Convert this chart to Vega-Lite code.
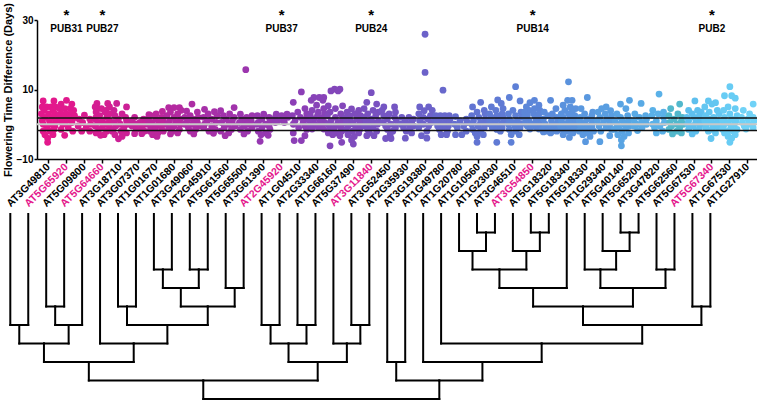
{
"$schema":"https://vega.github.io/schema/vega-lite/v6.json",
"padding":{"left":2,"top":2,"right":0,"bottom":0},
"bounds":"flush",
"spacing":55,
"config":{"view":{"stroke":null},"font":"Liberation Sans","axis":{"grid":false,"domainColor":"black","tickColor":"black","labelColor":"black","titleColor":"black","labelFont":"Liberation Sans","titleFont":"Liberation Sans"}},
"datasets":{
"genes":[{"i":1,"g":"AT3G49810"},{"i":2,"g":"AT5G65920"},{"i":3,"g":"AT5G09800"},{"i":4,"g":"AT5G64660"},{"i":5,"g":"AT3G18710"},{"i":6,"g":"AT3G07370"},{"i":7,"g":"AT1G01670"},{"i":8,"g":"AT1G01680"},{"i":9,"g":"AT3G49060"},{"i":10,"g":"AT2G45910"},{"i":11,"g":"AT5G61560"},{"i":12,"g":"AT5G65500"},{"i":13,"g":"AT3G61390"},{"i":14,"g":"AT2G45920"},{"i":15,"g":"AT1G04510"},{"i":16,"g":"AT2G33340"},{"i":17,"g":"AT1G66160"},{"i":18,"g":"AT5G37490"},{"i":19,"g":"AT3G11840"},{"i":20,"g":"AT3G52450"},{"i":21,"g":"AT2G35930"},{"i":22,"g":"AT3G19380"},{"i":23,"g":"AT1G49780"},{"i":24,"g":"AT1G20780"},{"i":25,"g":"AT1G10560"},{"i":26,"g":"AT1G23030"},{"i":27,"g":"AT3G46510"},{"i":28,"g":"AT3G54850"},{"i":29,"g":"AT5G18320"},{"i":30,"g":"AT5G18340"},{"i":31,"g":"AT5G18330"},{"i":32,"g":"AT1G29340"},{"i":33,"g":"AT5G40140"},{"i":34,"g":"AT5G65200"},{"i":35,"g":"AT3G47820"},{"i":36,"g":"AT5G62560"},{"i":37,"g":"AT5G67530"},{"i":38,"g":"AT5G67340"},{"i":39,"g":"AT1G67530"},{"i":40,"g":"AT1G27910"}],
"ann":[{"g":"AT5G65920","t":"PUB31"},{"g":"AT5G64660","t":"PUB27"},{"g":"AT2G45920","t":"PUB37"},{"g":"AT3G11840","t":"PUB24"},{"g":"AT3G54850","t":"PUB14"},{"g":"AT5G67340","t":"PUB2"}],
"edges":[{"cx":1,"cl":0,"px":1.5,"pl":6},{"cx":2,"cl":0,"px":1.5,"pl":6},{"cx":3,"cl":0,"px":3.5,"pl":5},{"cx":4,"cl":0,"px":3.5,"pl":5},{"cx":3.5,"cl":5,"px":4.25,"pl":6},{"cx":5,"cl":0,"px":4.25,"pl":6},{"cx":1.5,"cl":6,"px":2.875,"pl":7},{"cx":4.25,"cl":6,"px":2.875,"pl":7},{"cx":7,"cl":0,"px":7.5,"pl":5},{"cx":8,"cl":0,"px":7.5,"pl":5},{"cx":9,"cl":0,"px":9.5,"pl":3},{"cx":10,"cl":0,"px":9.5,"pl":3},{"cx":11,"cl":0,"px":11.5,"pl":3},{"cx":12,"cl":0,"px":11.5,"pl":3},{"cx":9.5,"cl":3,"px":10.5,"pl":4},{"cx":11.5,"cl":3,"px":10.5,"pl":4},{"cx":13,"cl":0,"px":13.5,"pl":4},{"cx":14,"cl":0,"px":13.5,"pl":4},{"cx":10.5,"cl":4,"px":12,"pl":5},{"cx":13.5,"cl":4,"px":12,"pl":5},{"cx":7.5,"cl":5,"px":9.75,"pl":6},{"cx":12,"cl":5,"px":9.75,"pl":6},{"cx":6,"cl":0,"px":7.875,"pl":7},{"cx":9.75,"cl":6,"px":7.875,"pl":7},{"cx":2.875,"cl":7,"px":5.375,"pl":8},{"cx":7.875,"cl":7,"px":5.375,"pl":8},{"cx":15,"cl":0,"px":15.5,"pl":6},{"cx":16,"cl":0,"px":15.5,"pl":6},{"cx":17,"cl":0,"px":17.5,"pl":6},{"cx":18,"cl":0,"px":17.5,"pl":6},{"cx":15.5,"cl":6,"px":16.5,"pl":7},{"cx":17.5,"cl":6,"px":16.5,"pl":7},{"cx":20,"cl":0,"px":20.5,"pl":6},{"cx":21,"cl":0,"px":20.5,"pl":6},{"cx":19,"cl":0,"px":19.75,"pl":7},{"cx":20.5,"cl":6,"px":19.75,"pl":7},{"cx":16.5,"cl":7,"px":18.125,"pl":8},{"cx":19.75,"cl":7,"px":18.125,"pl":8},{"cx":5.375,"cl":8,"px":11.75,"pl":9},{"cx":18.125,"cl":8,"px":11.75,"pl":9},{"cx":22,"cl":0,"px":22.5,"pl":8},{"cx":23,"cl":0,"px":22.5,"pl":8},{"cx":27,"cl":0,"px":27.5,"pl":1},{"cx":28,"cl":0,"px":27.5,"pl":1},{"cx":26,"cl":0,"px":26.75,"pl":2},{"cx":27.5,"cl":1,"px":26.75,"pl":2},{"cx":30,"cl":0,"px":30.5,"pl":1},{"cx":31,"cl":0,"px":30.5,"pl":1},{"cx":29,"cl":0,"px":29.75,"pl":2},{"cx":30.5,"cl":1,"px":29.75,"pl":2},{"cx":26.75,"cl":2,"px":28.25,"pl":3},{"cx":29.75,"cl":2,"px":28.25,"pl":3},{"cx":28.25,"cl":3,"px":30.125,"pl":4},{"cx":32,"cl":0,"px":30.125,"pl":4},{"cx":35,"cl":0,"px":35.5,"pl":1},{"cx":36,"cl":0,"px":35.5,"pl":1},{"cx":34,"cl":0,"px":34.75,"pl":2},{"cx":35.5,"cl":1,"px":34.75,"pl":2},{"cx":33,"cl":0,"px":33.875,"pl":3},{"cx":34.75,"cl":2,"px":33.875,"pl":3},{"cx":37,"cl":0,"px":37.5,"pl":3},{"cx":38,"cl":0,"px":37.5,"pl":3},{"cx":33.875,"cl":3,"px":35.6875,"pl":4},{"cx":37.5,"cl":3,"px":35.6875,"pl":4},{"cx":30.125,"cl":4,"px":32.906,"pl":5},{"cx":35.6875,"cl":4,"px":32.906,"pl":5},{"cx":39,"cl":0,"px":39.5,"pl":5},{"cx":40,"cl":0,"px":39.5,"pl":5},{"cx":32.906,"cl":5,"px":36.203,"pl":6},{"cx":39.5,"cl":5,"px":36.203,"pl":6},{"cx":25,"cl":0,"px":30.602,"pl":7},{"cx":36.203,"cl":6,"px":30.602,"pl":7},{"cx":24,"cl":0,"px":27.301,"pl":8},{"cx":30.602,"cl":7,"px":27.301,"pl":8},{"cx":22.5,"cl":8,"px":24.9,"pl":9},{"cx":27.301,"cl":8,"px":24.9,"pl":9},{"cx":11.75,"cl":9,"px":18.325,"pl":10},{"cx":24.9,"cl":9,"px":18.325,"pl":10}],
"pts":[
{"i":1,"v":6.7,"o":-0.3},{"i":1,"v":6.7,"o":0.3},{"i":1,"v":5,"o":-0.35},{"i":1,"v":5,"o":-0.1},{"i":1,"v":5,"o":0.15},{"i":1,"v":5,"o":0.38},{"i":1,"v":4,"o":-0.25},{"i":1,"v":4,"o":0.25},{"i":1,"v":3,"o":-0.4},{"i":1,"v":3,"o":0},{"i":1,"v":3,"o":0.35},{"i":1,"v":2,"o":-0.2},{"i":1,"v":2,"o":0.2},{"i":1,"v":1,"o":-0.35},{"i":1,"v":1,"o":0.05},{"i":1,"v":1,"o":0.4},{"i":1,"v":0,"o":-0.3},{"i":1,"v":0,"o":0.1},{"i":1,"v":-0.5,"o":0.35},{"i":1,"v":-1,"o":-0.1},{"i":1,"v":-1.5,"o":0.3},{"i":1,"v":-2,"o":-0.3},{"i":1,"v":-2,"o":0.1},{"i":1,"v":-3,"o":-0.2},{"i":1,"v":-3,"o":0.25},{"i":1,"v":-4,"o":-0.05},{"i":1,"v":-5.2,"o":-0.05},
{"i":2,"v":6.9,"o":0},{"i":2,"v":5.8,"o":-0.3},{"i":2,"v":5.8,"o":0.3},{"i":2,"v":4.5,"o":-0.4},{"i":2,"v":4.5,"o":-0.1},{"i":2,"v":4.5,"o":0.2},{"i":2,"v":4,"o":0.4},{"i":2,"v":3,"o":-0.3},{"i":2,"v":3,"o":0},{"i":2,"v":3,"o":0.3},{"i":2,"v":2.5,"o":-0.45},{"i":2,"v":2.5,"o":0.45},{"i":2,"v":2,"o":-0.15},{"i":2,"v":2,"o":0.15},{"i":2,"v":1.5,"o":0.35},{"i":2,"v":1,"o":-0.35},{"i":2,"v":1,"o":0},{"i":2,"v":0.5,"o":0.3},{"i":2,"v":0,"o":-0.2},{"i":2,"v":-1,"o":0.1},{"i":2,"v":-1.5,"o":-0.3},{"i":2,"v":-2,"o":0.35},{"i":2,"v":-3.2,"o":-0.1},
{"i":3,"v":2.6,"o":0},{"i":3,"v":1.5,"o":-0.3},{"i":3,"v":1.5,"o":0.3},{"i":3,"v":0.5,"o":-0.1},{"i":3,"v":0,"o":0.35},{"i":3,"v":-0.5,"o":-0.35},{"i":3,"v":-1,"o":0.1},{"i":3,"v":-2,"o":-0.15},{"i":3,"v":-2,"o":0.3},
{"i":4,"v":6,"o":-0.3},{"i":4,"v":6,"o":0.3},{"i":4,"v":5,"o":-0.4},{"i":4,"v":5,"o":0.4},{"i":4,"v":4.5,"o":-0.25},{"i":4,"v":4.5,"o":-0.05},{"i":4,"v":4,"o":0.2},{"i":4,"v":3.5,"o":-0.35},{"i":4,"v":3.5,"o":0.15},{"i":4,"v":3,"o":0.4},{"i":4,"v":2.5,"o":-0.15},{"i":4,"v":2,"o":0.25},{"i":4,"v":2,"o":-0.35},{"i":4,"v":1.5,"o":-0.4},{"i":4,"v":1,"o":0},{"i":4,"v":1,"o":0.4},{"i":4,"v":0.5,"o":-0.25},{"i":4,"v":0,"o":0.2},{"i":4,"v":-0.5,"o":-0.4},{"i":4,"v":-1,"o":0.4},{"i":4,"v":-1,"o":0},{"i":4,"v":-1.5,"o":-0.2},{"i":4,"v":-2,"o":0.25},{"i":4,"v":-2.5,"o":-0.35},{"i":4,"v":-3,"o":0.1},{"i":4,"v":-3.2,"o":-0.1},
{"i":5,"v":6,"o":-0.2},{"i":5,"v":5,"o":0.35},{"i":5,"v":4,"o":-0.35},{"i":5,"v":3,"o":0.1},{"i":5,"v":2.5,"o":-0.3},{"i":5,"v":2,"o":0.3},{"i":5,"v":1.5,"o":-0.1},{"i":5,"v":1,"o":0.35},{"i":5,"v":0.5,"o":-0.35},{"i":5,"v":0,"o":0},{"i":5,"v":0,"o":0.4},{"i":5,"v":-0.5,"o":-0.25},{"i":5,"v":-1,"o":0.2},{"i":5,"v":-1.5,"o":-0.4},{"i":5,"v":-2,"o":0.05},{"i":5,"v":-2,"o":-0.45},{"i":5,"v":-2.5,"o":0.35},{"i":5,"v":-3,"o":-0.3},{"i":5,"v":-3.5,"o":0.1},{"i":5,"v":-4.2,"o":-0.1},
{"i":6,"v":2,"o":-0.2},{"i":6,"v":1.5,"o":0.3},{"i":6,"v":1,"o":-0.35},{"i":6,"v":0.5,"o":0.1},{"i":6,"v":0,"o":-0.1},{"i":6,"v":0,"o":0.4},{"i":6,"v":-0.5,"o":-0.35},{"i":6,"v":-1,"o":0.2},{"i":6,"v":-1.5,"o":-0.1},{"i":6,"v":-2,"o":0.35},{"i":6,"v":-2.7,"o":-0.2},{"i":6,"v":-2.7,"o":0.2},
{"i":7,"v":3.7,"o":0.35},{"i":7,"v":3,"o":0},{"i":7,"v":2.8,"o":-0.4},{"i":7,"v":2.5,"o":-0.3},{"i":7,"v":2,"o":0.3},{"i":7,"v":1.5,"o":-0.45},{"i":7,"v":1.5,"o":0},{"i":7,"v":1,"o":0.4},{"i":7,"v":0.5,"o":-0.25},{"i":7,"v":0.5,"o":0.15},{"i":7,"v":0,"o":-0.4},{"i":7,"v":0,"o":0.4},{"i":7,"v":-0.5,"o":0},{"i":7,"v":-1,"o":-0.3},{"i":7,"v":-1,"o":0.3},{"i":7,"v":-1.5,"o":-0.05},{"i":7,"v":-2,"o":0.4},{"i":7,"v":-2,"o":-0.35},{"i":7,"v":-2.5,"o":0.1},{"i":7,"v":-3,"o":-0.2},{"i":7,"v":-3.5,"o":0.05},
{"i":8,"v":4.8,"o":-0.3},{"i":8,"v":4.8,"o":0},{"i":8,"v":4.8,"o":0.3},{"i":8,"v":4,"o":0.4},{"i":8,"v":3.5,"o":-0.2},{"i":8,"v":3,"o":0.2},{"i":8,"v":2.5,"o":-0.4},{"i":8,"v":2,"o":0},{"i":8,"v":1.5,"o":0.35},{"i":8,"v":1,"o":-0.25},{"i":8,"v":0.5,"o":0.1},{"i":8,"v":0,"o":-0.35},{"i":8,"v":0,"o":0.35},{"i":8,"v":-0.5,"o":0},{"i":8,"v":-1,"o":-0.3},{"i":8,"v":-1.5,"o":0.3},{"i":8,"v":-2,"o":-0.1},{"i":8,"v":-2.5,"o":0.2},{"i":8,"v":-2.8,"o":-0.2},
{"i":9,"v":5.8,"o":0},{"i":9,"v":3.8,"o":-0.3},{"i":9,"v":3.5,"o":0.3},{"i":9,"v":2.5,"o":-0.1},{"i":9,"v":2,"o":0.35},{"i":9,"v":2,"o":-0.4},{"i":9,"v":1.5,"o":0.05},{"i":9,"v":1,"o":-0.25},{"i":9,"v":0.5,"o":0.3},{"i":9,"v":0,"o":-0.4},{"i":9,"v":0,"o":0.05},{"i":9,"v":-0.5,"o":0.4},{"i":9,"v":-1,"o":-0.2},{"i":9,"v":-1.5,"o":0.2},{"i":9,"v":-2,"o":-0.1},{"i":9,"v":-2.8,"o":0.1},
{"i":10,"v":4.3,"o":-0.3},{"i":10,"v":3.6,"o":0.25},{"i":10,"v":3,"o":-0.1},{"i":10,"v":2.5,"o":0.4},{"i":10,"v":2,"o":-0.35},{"i":10,"v":1.5,"o":0.1},{"i":10,"v":1,"o":-0.15},{"i":10,"v":0.5,"o":0.35},{"i":10,"v":0,"o":-0.3},{"i":10,"v":-0.5,"o":0.1},{"i":10,"v":-1,"o":-0.35},{"i":10,"v":-1.5,"o":0.3},{"i":10,"v":-2,"o":-0.05},{"i":10,"v":-2.6,"o":0.2},
{"i":11,"v":4.8,"o":0.35},{"i":11,"v":3.9,"o":-0.4},{"i":11,"v":3,"o":0.1},{"i":11,"v":2.5,"o":-0.25},{"i":11,"v":2,"o":0.35},{"i":11,"v":1.5,"o":-0.1},{"i":11,"v":1,"o":0.25},{"i":11,"v":0.5,"o":-0.35},{"i":11,"v":0,"o":0.05},{"i":11,"v":-0.5,"o":0.4},{"i":11,"v":-1,"o":-0.2},{"i":11,"v":-1.5,"o":0.2},{"i":11,"v":-2,"o":-0.4},{"i":11,"v":-2.5,"o":0.05},{"i":11,"v":-3.3,"o":-0.15},
{"i":12,"v":15.7,"o":0},{"i":12,"v":2.9,"o":-0.3},{"i":12,"v":2.5,"o":0.35},{"i":12,"v":2,"o":0.05},{"i":12,"v":1.5,"o":-0.2},{"i":12,"v":1,"o":0.3},{"i":12,"v":1,"o":-0.05},{"i":12,"v":0.5,"o":-0.35},{"i":12,"v":0,"o":0.1},{"i":12,"v":-0.5,"o":-0.1},{"i":12,"v":-1,"o":0.35},{"i":12,"v":-1.5,"o":-0.3},{"i":12,"v":-2,"o":0.1},{"i":12,"v":-2.8,"o":-0.1},
{"i":13,"v":2.9,"o":0},{"i":13,"v":2.5,"o":-0.35},{"i":13,"v":2,"o":0.3},{"i":13,"v":1.5,"o":-0.1},{"i":13,"v":1,"o":0.35},{"i":13,"v":0.5,"o":-0.3},{"i":13,"v":0,"o":0.1},{"i":13,"v":0,"o":-0.4},{"i":13,"v":-0.5,"o":0.3},{"i":13,"v":-1,"o":-0.1},{"i":13,"v":-1.5,"o":0.35},{"i":13,"v":-2,"o":-0.3},{"i":13,"v":-2.5,"o":0.1},{"i":13,"v":-3,"o":-0.15},{"i":13,"v":-3.2,"o":0.25},{"i":13,"v":-4.9,"o":-0.2},
{"i":14,"v":2.9,"o":-0.3},{"i":14,"v":2.9,"o":0.3},{"i":14,"v":2.5,"o":0},{"i":14,"v":2,"o":-0.35},{"i":14,"v":2,"o":0.35},{"i":14,"v":1.5,"o":0.1},{"i":14,"v":1,"o":-0.2},{"i":14,"v":0.5,"o":0.15},{"i":14,"v":0.5,"o":-0.35},
{"i":15,"v":9.3,"o":0.1},{"i":15,"v":6.3,"o":-0.35},{"i":15,"v":4.5,"o":0.3},{"i":15,"v":3.5,"o":-0.1},{"i":15,"v":3,"o":0.4},{"i":15,"v":2.5,"o":-0.4},{"i":15,"v":2,"o":0.05},{"i":15,"v":1.5,"o":0.35},{"i":15,"v":1,"o":-0.25},{"i":15,"v":0.5,"o":0.2},{"i":15,"v":0,"o":-0.35},{"i":15,"v":-0.5,"o":0.3},{"i":15,"v":-1,"o":-0.05},{"i":15,"v":-1.5,"o":0.4},{"i":15,"v":-2.5,"o":-0.35},{"i":15,"v":-3.3,"o":0.3},{"i":15,"v":-4.7,"o":-0.3},{"i":15,"v":-4.7,"o":0.1},
{"i":16,"v":7.7,"o":-0.2},{"i":16,"v":7.7,"o":0.1},{"i":16,"v":7.7,"o":0.35},{"i":16,"v":6.9,"o":-0.35},{"i":16,"v":6.9,"o":0.3},{"i":16,"v":5.5,"o":-0.05},{"i":16,"v":4.5,"o":0.35},{"i":16,"v":4,"o":-0.3},{"i":16,"v":3.5,"o":0.05},{"i":16,"v":3,"o":0.4},{"i":16,"v":2.5,"o":-0.4},{"i":16,"v":2.5,"o":0},{"i":16,"v":2,"o":0.3},{"i":16,"v":1.5,"o":-0.2},{"i":16,"v":1,"o":0.15},{"i":16,"v":1,"o":-0.45},{"i":16,"v":0.5,"o":0.4},{"i":16,"v":0,"o":-0.15},{"i":16,"v":0,"o":0.2},{"i":16,"v":-0.5,"o":-0.4},{"i":16,"v":-1,"o":0.05},{"i":16,"v":-1.4,"o":0.35},{"i":16,"v":-1.4,"o":-0.3},
{"i":17,"v":10.1,"o":-0.05},{"i":17,"v":10.1,"o":0.25},{"i":17,"v":9.6,"o":-0.25},{"i":17,"v":9.6,"o":0.15},{"i":17,"v":5.3,"o":-0.4},{"i":17,"v":5.3,"o":0.4},{"i":17,"v":4.5,"o":0},{"i":17,"v":3.5,"o":-0.3},{"i":17,"v":3,"o":0.3},{"i":17,"v":2.5,"o":-0.45},{"i":17,"v":2,"o":0},{"i":17,"v":1.5,"o":0.4},{"i":17,"v":1,"o":-0.25},{"i":17,"v":0.5,"o":0.15},{"i":17,"v":0,"o":-0.4},{"i":17,"v":0,"o":0.35},{"i":17,"v":-0.5,"o":0},{"i":17,"v":-1,"o":-0.3},{"i":17,"v":-1,"o":0.3},{"i":17,"v":-1.5,"o":-0.1},{"i":17,"v":-2,"o":0.35},{"i":17,"v":-2.5,"o":-0.4},{"i":17,"v":-2.5,"o":0.1},{"i":17,"v":-3,"o":-0.15},{"i":17,"v":-3.3,"o":0.25},{"i":17,"v":-5.2,"o":0.35},{"i":17,"v":-6.2,"o":-0.3},
{"i":18,"v":4.4,"o":-0.1},{"i":18,"v":4,"o":0.3},{"i":18,"v":3.5,"o":-0.35},{"i":18,"v":3,"o":0.1},{"i":18,"v":2.5,"o":-0.2},{"i":18,"v":2.5,"o":0.4},{"i":18,"v":2,"o":-0.45},{"i":18,"v":1.5,"o":0.2},{"i":18,"v":1,"o":-0.15},{"i":18,"v":1,"o":0.4},{"i":18,"v":0.5,"o":-0.4},{"i":18,"v":0,"o":0},{"i":18,"v":0,"o":0.35},{"i":18,"v":-0.5,"o":-0.3},{"i":18,"v":-1,"o":0.15},{"i":18,"v":-1.5,"o":-0.4},{"i":18,"v":-1.5,"o":0.35},{"i":18,"v":-2,"o":-0.05},{"i":18,"v":-2.5,"o":0.3},{"i":18,"v":-3,"o":-0.3},{"i":18,"v":-3.5,"o":0.05},{"i":18,"v":-4.5,"o":-0.1},{"i":18,"v":-5.7,"o":0},
{"i":19,"v":9.1,"o":0},{"i":19,"v":6.3,"o":-0.25},{"i":19,"v":5.8,"o":0.3},{"i":19,"v":4.5,"o":-0.4},{"i":19,"v":4,"o":0.1},{"i":19,"v":3.5,"o":0.4},{"i":19,"v":3,"o":-0.2},{"i":19,"v":2.5,"o":0.25},{"i":19,"v":2,"o":-0.4},{"i":19,"v":1.5,"o":0},{"i":19,"v":1,"o":0.4},{"i":19,"v":1,"o":-0.3},{"i":19,"v":0.5,"o":0.1},{"i":19,"v":0,"o":-0.2},{"i":19,"v":0,"o":0.35},{"i":19,"v":-0.5,"o":-0.4},{"i":19,"v":-1,"o":0.1},{"i":19,"v":-1.5,"o":-0.2},{"i":19,"v":-2,"o":0.3},{"i":19,"v":-2.5,"o":-0.1},{"i":19,"v":-3.3,"o":0.15},{"i":19,"v":-3.3,"o":-0.25},
{"i":20,"v":5,"o":-0.3},{"i":20,"v":5,"o":0.3},{"i":20,"v":4,"o":-0.4},{"i":20,"v":3.5,"o":0.35},{"i":20,"v":3,"o":0},{"i":20,"v":2.5,"o":-0.3},{"i":20,"v":2,"o":0.3},{"i":20,"v":1.5,"o":-0.1},{"i":20,"v":1,"o":0.4},{"i":20,"v":0.5,"o":-0.35},{"i":20,"v":0,"o":0.1},{"i":20,"v":-0.5,"o":-0.2},{"i":20,"v":-1,"o":0.35},{"i":20,"v":-1.5,"o":-0.1},{"i":20,"v":-2,"o":0.2},{"i":20,"v":-3,"o":0.05},{"i":20,"v":-4.1,"o":-0.2},{"i":20,"v":-4.1,"o":0.1},
{"i":21,"v":2,"o":-0.3},{"i":21,"v":2,"o":0.1},{"i":21,"v":1.5,"o":0.35},{"i":21,"v":1,"o":-0.1},{"i":21,"v":0.5,"o":0.25},{"i":21,"v":0,"o":-0.35},{"i":21,"v":0,"o":0.1},{"i":21,"v":-0.5,"o":0.35},{"i":21,"v":-1,"o":-0.2},{"i":21,"v":-1.5,"o":0.15},{"i":21,"v":-2,"o":-0.05},{"i":21,"v":-2.5,"o":0.25},{"i":21,"v":-4,"o":-0.1},
{"i":22,"v":25.9,"o":0},{"i":22,"v":14.9,"o":0},{"i":22,"v":5,"o":-0.3},{"i":22,"v":5,"o":0.2},{"i":22,"v":4,"o":0.4},{"i":22,"v":3.9,"o":-0.05},{"i":22,"v":3,"o":-0.35},{"i":22,"v":2.5,"o":0.3},{"i":22,"v":2,"o":-0.1},{"i":22,"v":1.5,"o":0.15},{"i":22,"v":1,"o":-0.3},{"i":22,"v":0.5,"o":0.35},{"i":22,"v":0,"o":-0.1},{"i":22,"v":-0.5,"o":0.2},{"i":22,"v":-1,"o":-0.35},{"i":22,"v":-2,"o":0.1},{"i":22,"v":-3.3,"o":-0.2},{"i":22,"v":-4,"o":0.1},
{"i":23,"v":9.8,"o":0},{"i":23,"v":2.5,"o":-0.4},{"i":23,"v":2.5,"o":-0.15},{"i":23,"v":2.5,"o":0.1},{"i":23,"v":2.5,"o":0.35},{"i":23,"v":2,"o":-0.3},{"i":23,"v":2,"o":0},{"i":23,"v":2,"o":0.3},{"i":23,"v":1.5,"o":-0.45},{"i":23,"v":1.5,"o":0.4},{"i":23,"v":1,"o":-0.2},{"i":23,"v":1,"o":0.15},{"i":23,"v":0.5,"o":-0.35},{"i":23,"v":0.5,"o":0.35},{"i":23,"v":0,"o":0},{"i":23,"v":-0.5,"o":-0.3},{"i":23,"v":-0.5,"o":0.3},{"i":23,"v":-1,"o":0.05},{"i":23,"v":-1.5,"o":-0.2},{"i":23,"v":-2,"o":0.25},{"i":23,"v":-3,"o":-0.1},{"i":23,"v":-3,"o":0.2},
{"i":24,"v":2.2,"o":-0.3},{"i":24,"v":1.5,"o":0.3},{"i":24,"v":1,"o":-0.05},{"i":24,"v":0.5,"o":0.35},{"i":24,"v":0,"o":-0.35},{"i":24,"v":-0.5,"o":0.15},{"i":24,"v":-1,"o":-0.2},{"i":24,"v":-2,"o":0.3},{"i":24,"v":-3,"o":-0.3},{"i":24,"v":-3,"o":0.05},
{"i":25,"v":6.3,"o":0.1},{"i":25,"v":5,"o":-0.35},{"i":25,"v":4,"o":0.3},{"i":25,"v":3.5,"o":-0.1},{"i":25,"v":3,"o":0.35},{"i":25,"v":2.5,"o":-0.4},{"i":25,"v":2,"o":0},{"i":25,"v":1.5,"o":0.35},{"i":25,"v":1,"o":-0.3},{"i":25,"v":0.5,"o":0.1},{"i":25,"v":0,"o":-0.4},{"i":25,"v":0,"o":0.35},{"i":25,"v":-0.5,"o":-0.05},{"i":25,"v":-1,"o":0.3},{"i":25,"v":-1.5,"o":-0.35},{"i":25,"v":-2,"o":0.1},{"i":25,"v":-2.5,"o":-0.2},{"i":25,"v":-3,"o":0.25},{"i":25,"v":-3.5,"o":-0.1},{"i":25,"v":-5.2,"o":-0.1},
{"i":26,"v":7,"o":0.05},{"i":26,"v":6,"o":0.25},{"i":26,"v":5,"o":-0.3},{"i":26,"v":4.5,"o":0.35},{"i":26,"v":4,"o":-0.05},{"i":26,"v":3,"o":-0.4},{"i":26,"v":3,"o":0.3},{"i":26,"v":2.5,"o":0},{"i":26,"v":2,"o":-0.3},{"i":26,"v":2,"o":0.35},{"i":26,"v":1.5,"o":0.05},{"i":26,"v":1,"o":-0.4},{"i":26,"v":1,"o":0.4},{"i":26,"v":0.5,"o":-0.1},{"i":26,"v":0,"o":0.25},{"i":26,"v":0,"o":-0.35},{"i":26,"v":-0.5,"o":0.05},{"i":26,"v":-1,"o":-0.25},{"i":26,"v":-1,"o":0.3},{"i":26,"v":-1.5,"o":0},{"i":26,"v":-2,"o":0.2},{"i":26,"v":-5.2,"o":0},
{"i":27,"v":10.8,"o":0.05},{"i":27,"v":7.7,"o":-0.3},{"i":27,"v":6.7,"o":0.3},{"i":27,"v":4,"o":-0.1},{"i":27,"v":3.5,"o":0.35},{"i":27,"v":3,"o":-0.35},{"i":27,"v":2.5,"o":0.05},{"i":27,"v":2,"o":0.4},{"i":27,"v":1.5,"o":-0.3},{"i":27,"v":1,"o":0.15},{"i":27,"v":0.5,"o":-0.1},{"i":27,"v":0,"o":0.35},{"i":27,"v":0,"o":-0.35},{"i":27,"v":-0.5,"o":0},{"i":27,"v":-1,"o":0.3},{"i":27,"v":-1.5,"o":-0.3},{"i":27,"v":-2,"o":0.05},{"i":27,"v":-3,"o":-0.2},{"i":27,"v":-3,"o":0.25},{"i":27,"v":-5.2,"o":-0.2},
{"i":28,"v":6.9,"o":0.1},{"i":28,"v":6.2,"o":-0.15},{"i":28,"v":5.5,"o":0.35},{"i":28,"v":5,"o":-0.35},{"i":28,"v":4.5,"o":0.1},{"i":28,"v":4,"o":-0.2},{"i":28,"v":4,"o":0.4},{"i":28,"v":3.5,"o":-0.45},{"i":28,"v":3,"o":0.05},{"i":28,"v":3,"o":0.35},{"i":28,"v":2.5,"o":-0.3},{"i":28,"v":2,"o":0.15},{"i":28,"v":2,"o":-0.45},{"i":28,"v":1.5,"o":0.4},{"i":28,"v":1,"o":-0.2},{"i":28,"v":1,"o":0.2},{"i":28,"v":0.5,"o":-0.4},{"i":28,"v":0,"o":0},{"i":28,"v":0,"o":0.4},{"i":28,"v":-0.5,"o":-0.3},{"i":28,"v":-1,"o":0.2},{"i":28,"v":-1.4,"o":-0.15},{"i":28,"v":-1.4,"o":0.35},
{"i":29,"v":6.9,"o":0},{"i":29,"v":4.5,"o":0.3},{"i":29,"v":3.5,"o":-0.35},{"i":29,"v":3,"o":0.1},{"i":29,"v":2.5,"o":-0.15},{"i":29,"v":2,"o":0.35},{"i":29,"v":1.5,"o":-0.4},{"i":29,"v":1,"o":0.05},{"i":29,"v":0.5,"o":0.4},{"i":29,"v":0,"o":-0.3},{"i":29,"v":0,"o":0.1},{"i":29,"v":-0.5,"o":0.4},{"i":29,"v":-1,"o":-0.35},{"i":29,"v":-1,"o":-0.05},{"i":29,"v":-1,"o":0.25},{"i":29,"v":-1.5,"o":-0.45},{"i":29,"v":-1.5,"o":0.45},{"i":29,"v":-2,"o":-0.2},{"i":29,"v":-2,"o":0.1},{"i":29,"v":-2,"o":0.35},{"i":29,"v":-2.2,"o":-0.4},{"i":29,"v":-2.5,"o":0},
{"i":30,"v":12.2,"o":0},{"i":30,"v":6.9,"o":-0.05},{"i":30,"v":6.9,"o":0.2},{"i":30,"v":5.5,"o":-0.3},{"i":30,"v":5,"o":0.1},{"i":30,"v":4.5,"o":0.4},{"i":30,"v":4,"o":-0.2},{"i":30,"v":3.5,"o":0.2},{"i":30,"v":3,"o":-0.4},{"i":30,"v":3,"o":0},{"i":30,"v":2.5,"o":0.35},{"i":30,"v":2,"o":-0.3},{"i":30,"v":2,"o":0.1},{"i":30,"v":1.5,"o":0.4},{"i":30,"v":1,"o":-0.4},{"i":30,"v":1,"o":0},{"i":30,"v":0.5,"o":0.3},{"i":30,"v":0,"o":-0.25},{"i":30,"v":0,"o":0.15},{"i":30,"v":-0.5,"o":-0.45},{"i":30,"v":-0.5,"o":0.4},{"i":30,"v":-1,"o":0},{"i":30,"v":-1.5,"o":-0.3},{"i":30,"v":-1.5,"o":0.3},{"i":30,"v":-2,"o":-0.05},{"i":30,"v":-2.5,"o":0.25},{"i":30,"v":-3,"o":-0.3},{"i":30,"v":-3.8,"o":0.05},
{"i":31,"v":7.7,"o":0.05},{"i":31,"v":4.5,"o":-0.3},{"i":31,"v":3.5,"o":0.35},{"i":31,"v":3,"o":-0.1},{"i":31,"v":2.5,"o":0.3},{"i":31,"v":2,"o":-0.35},{"i":31,"v":1.5,"o":0.05},{"i":31,"v":1,"o":-0.4},{"i":31,"v":1,"o":0.35},{"i":31,"v":0.5,"o":-0.1},{"i":31,"v":0,"o":0.3},{"i":31,"v":0,"o":-0.35},{"i":31,"v":-0.5,"o":0.05},{"i":31,"v":-1,"o":-0.3},{"i":31,"v":-1,"o":0.3},{"i":31,"v":-1.5,"o":-0.05},{"i":31,"v":-2,"o":0.4},{"i":31,"v":-2,"o":-0.4},{"i":31,"v":-2.5,"o":0.1},{"i":31,"v":-3,"o":-0.2},{"i":31,"v":-3.5,"o":0.2},{"i":31,"v":-5,"o":-0.05},
{"i":32,"v":5,"o":0.1},{"i":32,"v":4.5,"o":-0.15},{"i":32,"v":3.9,"o":0.35},{"i":32,"v":3.5,"o":-0.35},{"i":32,"v":3,"o":0.05},{"i":32,"v":2.5,"o":0.4},{"i":32,"v":2,"o":-0.25},{"i":32,"v":1.5,"o":0.15},{"i":32,"v":1,"o":-0.4},{"i":32,"v":1,"o":0.4},{"i":32,"v":0.5,"o":-0.05},{"i":32,"v":0,"o":0.3},{"i":32,"v":-0.5,"o":-0.3},{"i":32,"v":-1,"o":0.1},{"i":32,"v":-1.5,"o":0.4},{"i":32,"v":-2,"o":-0.2},{"i":32,"v":-3.3,"o":0.3},{"i":32,"v":-5,"o":-0.25},
{"i":33,"v":6.9,"o":0.4},{"i":33,"v":5.8,"o":-0.1},{"i":33,"v":4.5,"o":0.2},{"i":33,"v":3,"o":-0.3},{"i":33,"v":2.5,"o":0.3},{"i":33,"v":2,"o":-0.1},{"i":33,"v":1.5,"o":0.35},{"i":33,"v":1,"o":-0.4},{"i":33,"v":1,"o":0},{"i":33,"v":0.5,"o":0.3},{"i":33,"v":0,"o":-0.3},{"i":33,"v":0,"o":0.1},{"i":33,"v":-0.5,"o":0.4},{"i":33,"v":-1,"o":-0.2},{"i":33,"v":-1,"o":0.2},{"i":33,"v":-1.5,"o":-0.45},{"i":33,"v":-2,"o":0},{"i":33,"v":-2.5,"o":0.35},{"i":33,"v":-3,"o":-0.25},{"i":33,"v":-3.5,"o":0.1},{"i":33,"v":-4.5,"o":-0.05},{"i":33,"v":-6.2,"o":-0.05},
{"i":34,"v":6,"o":0.05},{"i":34,"v":3,"o":-0.3},{"i":34,"v":2.5,"o":0.3},{"i":34,"v":2,"o":-0.05},{"i":34,"v":1.5,"o":0.35},{"i":34,"v":1,"o":-0.35},{"i":34,"v":0.5,"o":0.1},{"i":34,"v":0,"o":-0.2},{"i":34,"v":0,"o":0.35},{"i":34,"v":-0.5,"o":-0.35},{"i":34,"v":-1,"o":0.1},{"i":34,"v":-1.8,"o":-0.15},
{"i":35,"v":8.7,"o":0.05},{"i":35,"v":4,"o":-0.3},{"i":35,"v":3.5,"o":0.3},{"i":35,"v":3,"o":0},{"i":35,"v":2.5,"o":-0.35},{"i":35,"v":2,"o":0.3},{"i":35,"v":1,"o":-0.1},{"i":35,"v":0.5,"o":0.35},{"i":35,"v":0,"o":-0.3},{"i":35,"v":-0.5,"o":0.1},{"i":35,"v":-1,"o":-0.2},{"i":35,"v":-2,"o":0.25},{"i":35,"v":-2.5,"o":-0.1},
{"i":36,"v":5.8,"o":0.2},{"i":36,"v":4.5,"o":-0.3},{"i":36,"v":3,"o":0.1},{"i":36,"v":2.5,"o":-0.4},{"i":36,"v":2,"o":0.35},{"i":36,"v":1.5,"o":-0.1},{"i":36,"v":1,"o":0.3},{"i":36,"v":0.5,"o":-0.35},{"i":36,"v":0,"o":0.05},{"i":36,"v":0,"o":0.4},{"i":36,"v":-0.5,"o":-0.25},{"i":36,"v":-1,"o":0.2},{"i":36,"v":-1.5,"o":-0.4},{"i":36,"v":-2,"o":0.05},{"i":36,"v":-2.5,"o":0.3},{"i":36,"v":-2.8,"o":-0.2},
{"i":37,"v":6.7,"o":0.05},{"i":37,"v":4,"o":-0.3},{"i":37,"v":4,"o":0.2},{"i":37,"v":3.5,"o":0.4},{"i":37,"v":3,"o":-0.1},{"i":37,"v":2.5,"o":0.3},{"i":37,"v":2,"o":-0.4},{"i":37,"v":2,"o":0},{"i":37,"v":1.5,"o":0.35},{"i":37,"v":1,"o":-0.3},{"i":37,"v":0.5,"o":0.1},{"i":37,"v":0,"o":-0.35},{"i":37,"v":0,"o":0.35},{"i":37,"v":-0.5,"o":-0.05},{"i":37,"v":-1,"o":0.3},{"i":37,"v":-1.5,"o":-0.3},{"i":37,"v":-2,"o":0.1},{"i":37,"v":-2.8,"o":-0.1},
{"i":38,"v":6.7,"o":-0.2},{"i":38,"v":6.2,"o":0.2},{"i":38,"v":5.8,"o":0},{"i":38,"v":5,"o":-0.4},{"i":38,"v":4,"o":0.3},{"i":38,"v":3.5,"o":-0.15},{"i":38,"v":3,"o":0.4},{"i":38,"v":2.5,"o":-0.35},{"i":38,"v":2,"o":0.1},{"i":38,"v":1.5,"o":-0.1},{"i":38,"v":1,"o":0.35},{"i":38,"v":1,"o":-0.4},{"i":38,"v":0.5,"o":0},{"i":38,"v":0,"o":-0.3},{"i":38,"v":0,"o":0.3},{"i":38,"v":-0.5,"o":0.05},{"i":38,"v":-1,"o":-0.35},{"i":38,"v":-1,"o":0.35},{"i":38,"v":-1.5,"o":0},{"i":38,"v":-2,"o":-0.2},{"i":38,"v":-2.5,"o":0.2},{"i":38,"v":-4.1,"o":-0.05},
{"i":39,"v":10.8,"o":0},{"i":39,"v":8.2,"o":-0.3},{"i":39,"v":8.2,"o":0.1},{"i":39,"v":7.5,"o":0.3},{"i":39,"v":5,"o":-0.1},{"i":39,"v":4.5,"o":0.3},{"i":39,"v":4,"o":-0.35},{"i":39,"v":3,"o":0},{"i":39,"v":2.5,"o":0.4},{"i":39,"v":2,"o":-0.3},{"i":39,"v":1.5,"o":0.1},{"i":39,"v":1,"o":-0.4},{"i":39,"v":1,"o":0.35},{"i":39,"v":0.5,"o":-0.1},{"i":39,"v":0,"o":0.25},{"i":39,"v":-0.5,"o":-0.35},{"i":39,"v":-1,"o":0.05},{"i":39,"v":-1.5,"o":-0.4},{"i":39,"v":-1.5,"o":0.4},{"i":39,"v":-2,"o":-0.1},{"i":39,"v":-2,"o":0.2},{"i":39,"v":-2.5,"o":-0.3},{"i":39,"v":-3,"o":0.3},{"i":39,"v":-3.5,"o":-0.1},{"i":39,"v":-4,"o":0.1},{"i":39,"v":-5.2,"o":0},
{"i":40,"v":5.8,"o":0.3},{"i":40,"v":4,"o":-0.25},{"i":40,"v":3,"o":0.1},{"i":40,"v":2,"o":-0.35},{"i":40,"v":2,"o":0.3},{"i":40,"v":1.5,"o":0},{"i":40,"v":1,"o":0.35},{"i":40,"v":0.5,"o":-0.3},{"i":40,"v":0,"o":0.05},{"i":40,"v":-0.5,"o":-0.2},{"i":40,"v":-1,"o":0.3},{"i":40,"v":-1.4,"o":-0.1}
]},
"vconcat":[
{"width":725,"height":139,
 "layer":[
  {"data":{"name":"pts"},
   "transform":[{"lookup":"i","from":{"data":{"name":"genes"},"key":"i","fields":["g"]}}],
   "mark":{"type":"circle","size":46,"opacity":1},
   "encoding":{
    "x":{"field":"g","type":"nominal","scale":{"domain":["AT3G49810","AT5G65920","AT5G09800","AT5G64660","AT3G18710","AT3G07370","AT1G01670","AT1G01680","AT3G49060","AT2G45910","AT5G61560","AT5G65500","AT3G61390","AT2G45920","AT1G04510","AT2G33340","AT1G66160","AT5G37490","AT3G11840","AT3G52450","AT2G35930","AT3G19380","AT1G49780","AT1G20780","AT1G10560","AT1G23030","AT3G46510","AT3G54850","AT5G18320","AT5G18340","AT5G18330","AT1G29340","AT5G40140","AT5G65200","AT3G47820","AT5G62560","AT5G67530","AT5G67340","AT1G67530","AT1G27910"],"paddingInner":0,"paddingOuter":0.218,"align":0.33},
     "axis":{"title":null,"labelAngle":-45,"labelAlign":"right","labelBaseline":"middle","labelFontSize":10.5,"labelFontWeight":"bold","tickSize":4,"labelPadding":2,"labelOverlap":false,"domainWidth":1.5,"tickWidth":1.5,"labelColor":{"condition":{"test":"indexof(['AT5G65920','AT5G64660','AT2G45920','AT3G11840','AT3G54850','AT5G67340'], datum.value) >= 0","value":"#E4168C"},"value":"black"}}},
    "xOffset":{"field":"o","type":"quantitative","scale":{"domain":[-0.5,0.5]}},
    "y":{"field":"v","type":"quantitative","scale":{"domain":[-10,30],"nice":false,"zero":false},
     "axis":{"values":[-10,0,10,20,30],"title":"Flowering Time Difference (Days)","titleFontSize":11,"titleFontWeight":"bold","labelFontSize":10,"labelFontWeight":"bold","tickSize":3,"labelPadding":1,"titlePadding":3,"domainWidth":1.5,"tickWidth":1.5}},
    "color":{"field":"g","type":"nominal","legend":null,"scale":{"domain":["AT3G49810","AT5G65920","AT5G09800","AT5G64660","AT3G18710","AT3G07370","AT1G01670","AT1G01680","AT3G49060","AT2G45910","AT5G61560","AT5G65500","AT3G61390","AT2G45920","AT1G04510","AT2G33340","AT1G66160","AT5G37490","AT3G11840","AT3G52450","AT2G35930","AT3G19380","AT1G49780","AT1G20780","AT1G10560","AT1G23030","AT3G46510","AT3G54850","AT5G18320","AT5G18340","AT5G18330","AT1G29340","AT5G40140","AT5G65200","AT3G47820","AT5G62560","AT5G67530","AT5G67340","AT1G67530","AT1G27910"],
     "range":["#E3188C","#E0198D","#D91C8F","#D41D92","#CC2096","#C42399","#BC269C","#B429A0","#AC2DA4","#A630A8","#A133AB","#9C36AE","#9638B1","#913BB3","#8C3FB6","#8843B8","#8347BA","#7E4CBD","#7951C0","#7556C3","#705CC6","#6C62C9","#6868CC","#656ECF","#6274D2","#607AD4","#5E80D7","#5C86D9","#5B8CDB","#5A92DD","#5A98DF","#599EE1","#59A4E3","#59AAE5","#5AB1E8","#52B8CC","#5EBFEE","#63C6F1","#68CCF4","#70D2F7"]}}
   }},
  {"data":{"values":[{"v":0}]},"mark":{"type":"rule","color":"#c8c8c8","strokeWidth":2},"encoding":{"y":{"field":"v","type":"quantitative"}}},
  {"data":{"values":[{"v":1.8},{"v":-1.8}]},"mark":{"type":"rule","color":"#111111","strokeWidth":1.5},"encoding":{"y":{"field":"v","type":"quantitative"}}},
  {"data":{"name":"ann"},"mark":{"type":"text","text":"*","fontSize":15,"fontWeight":"bold","baseline":"alphabetic","color":"black"},"encoding":{"x":{"field":"g","type":"nominal"},"y":{"datum":29.9,"type":"quantitative"}}},
  {"data":{"name":"ann"},"mark":{"type":"text","fontSize":10,"fontWeight":"bold","baseline":"alphabetic","color":"black"},"encoding":{"x":{"field":"g","type":"nominal"},"y":{"datum":26.6,"type":"quantitative"},"text":{"field":"t"}}}
 ]},
{"width":725,"height":185,"data":{"name":"edges"},
 "layer":[
  {"mark":{"type":"rule","color":"black","strokeWidth":2,"strokeCap":"square"},
   "encoding":{"x":{"field":"cx","type":"quantitative","scale":{"domain":[2.4875,42.877],"nice":false,"zero":false},"axis":null},
    "y":{"field":"cl","type":"quantitative","scale":{"domain":[0,10],"reverse":true,"nice":false,"zero":false},"axis":null},
    "y2":{"field":"pl"}}},
  {"mark":{"type":"rule","color":"black","strokeWidth":2,"strokeCap":"square"},
   "encoding":{"x":{"field":"cx","type":"quantitative"},"x2":{"field":"px"},"y":{"field":"pl","type":"quantitative"}}}
 ]}
]
}
